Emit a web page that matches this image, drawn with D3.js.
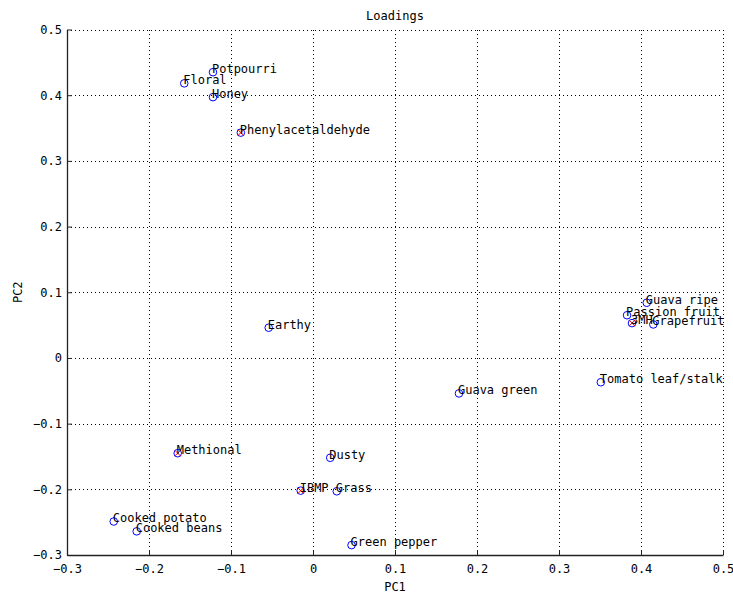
<!DOCTYPE html>
<html>
<head>
<meta charset="utf-8">
<script src="https://cdn.jsdelivr.net/npm/d3@7"></script>
<style>
  body { margin: 0; background: #fff; }
  svg text { font-family: "DejaVu Sans Mono", "Liberation Mono", monospace; font-size: 12px; fill: #000; }
</style>
</head>
<body>
<svg id="chart" width="733" height="596"></svg>
<script>
// Loading labels and PC coordinates
const labels = ["Potpourri", "Floral", "Honey", "Phenylacetaldehyde", "Guava ripe", "Passion fruit",
  "Grapefruit", "3MH", "Tomato leaf/stalk", "Guava green", "Earthy", "Methional", "Dusty",
  "IBMP", "Grass", "Cooked potato", "Cooked beans", "Green pepper"];
const pc1 = [-0.122, -0.157, -0.122, -0.088, 0.407, 0.383, 0.415, 0.389, 0.351, 0.178, -0.054,
  -0.165, 0.021, -0.015, 0.029, -0.243, -0.215, 0.047];
const pc2 = [0.435, 0.418, 0.397, 0.343, 0.084, 0.065, 0.051, 0.053, -0.037, -0.054, 0.046,
  -0.145, -0.152, -0.202, -0.203, -0.249, -0.264, -0.285];
// Compounds highlighted with a red cross
const highlighted = ["Phenylacetaldehyde", "3MH", "Methional", "IBMP"];
const xTicks = [-0.3, -0.2, -0.1, 0, 0.1, 0.2, 0.3, 0.4, 0.5];
const yTicks = [-0.3, -0.2, -0.1, 0, 0.1, 0.2, 0.3, 0.4, 0.5];

const svg = d3.select("#chart");
const plotL = 67, plotR = 723, plotT = 29.5, plotB = 555;
const x = d3.scaleLinear().domain([-0.3, 0.5]).range([plotL, plotR]);
const y = d3.scaleLinear().domain([-0.3, 0.5]).range([plotB, plotT]);
const fmt = v => (v === 0 ? "0" : d3.format(".1f")(v));

// dotted grid
const grid = svg.append("g").attr("stroke", "#000").attr("stroke-width", 1)
  .attr("stroke-dasharray", "1,3").attr("shape-rendering", "crispEdges");
grid.selectAll(".gx").data(xTicks.slice(1)).join("line")
  .attr("x1", d => Math.round(x(d)) + 0.5).attr("x2", d => Math.round(x(d)) + 0.5)
  .attr("y1", plotT).attr("y2", plotB);
grid.selectAll(".gy").data(yTicks.slice(1)).join("line")
  .attr("y1", d => Math.round(y(d)) + 0.5).attr("y2", d => Math.round(y(d)) + 0.5)
  .attr("x1", plotL).attr("x2", plotR);

// axes with inward ticks
const xAxis = d3.axisBottom(x).tickValues(xTicks).tickFormat(fmt).tickSizeInner(-5).tickSizeOuter(0).tickPadding(9);
const yAxis = d3.axisLeft(y).tickValues(yTicks).tickFormat(fmt).tickSizeInner(-5).tickSizeOuter(0).tickPadding(5);
const gx = svg.append("g").attr("transform", `translate(0,${plotB})`).call(xAxis);
const gy = svg.append("g").attr("transform", `translate(${plotL},0)`).call(yAxis);
[gx, gy].forEach(g => {
  g.select(".domain").attr("stroke", "#222").attr("stroke-width", 1.3);
  g.selectAll(".tick line").attr("stroke", "#222");
  g.selectAll(".tick text").style("font-family", "DejaVu Sans Mono, monospace").style("font-size", "12px").attr("fill", "#000");
});

// points
const data = labels.map((l, i) => ({ label: l, x: pc1[i], y: pc2[i] }));
const pts = svg.append("g");
pts.selectAll("circle").data(data).join("circle")
  .attr("cx", d => x(d.x)).attr("cy", d => y(d.y)).attr("r", 3.8)
  .attr("fill", "none").attr("stroke", "#0000ff").attr("stroke-width", 1);
const hl = data.filter(d => highlighted.includes(d.label));
pts.selectAll("path").data(hl).join("path")
  .attr("d", d => {
    const cx = x(d.x), cy = y(d.y), s = 3;
    return `M${cx - s},${cy - s}L${cx + s},${cy + s}M${cx - s},${cy + s}L${cx + s},${cy - s}`;
  })
  .attr("stroke", "#ff0000").attr("stroke-width", 1).attr("fill", "none");

// labels
svg.append("g").selectAll("text").data(data).join("text")
  .attr("x", d => x(d.x) - 1).attr("y", d => y(d.y) + 1)
  .text(d => d.label);

// titles
svg.append("text").attr("x", (plotL + plotR) / 2).attr("y", 20).attr("text-anchor", "middle").text("Loadings");
svg.append("text").attr("x", (plotL + plotR) / 2).attr("y", 591).attr("text-anchor", "middle").text("PC1");
svg.append("text").attr("transform", `translate(22,${(plotT + plotB) / 2}) rotate(-90)`)
  .attr("text-anchor", "middle").text("PC2");
</script>
</body>
</html>
